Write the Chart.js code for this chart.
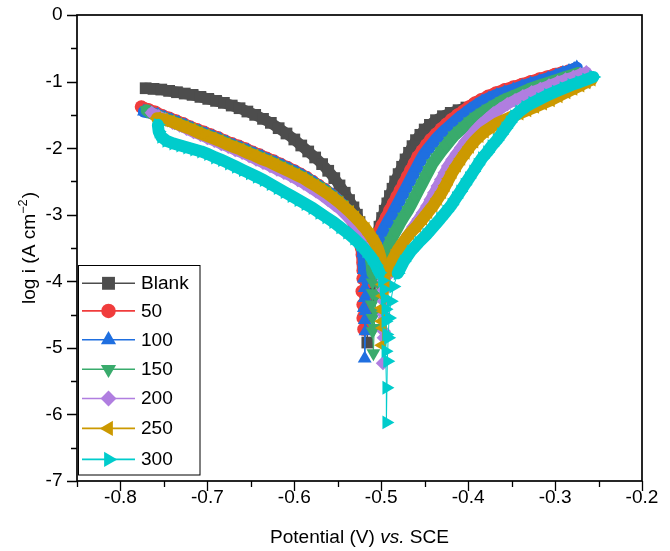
<!DOCTYPE html>
<html><head><meta charset="utf-8">
<script src="https://cdn.jsdelivr.net/npm/chart.js@4.4.1/dist/chart.umd.min.js"></script>
<style>html,body{margin:0;padding:0;background:#fff;}canvas{display:block;}</style>
</head><body>
<canvas id="c" width="670" height="551"></canvas>
<script>
const seriesNames = ['Blank','50','100','150','200','250','300'];
const seriesColors = ['#4d4d4d','#f03c3c','#1f6fe0','#39ab6c','#b07ee0','#cc9900','#00cccc'];
const seriesStyles = ['rect','circle','triangle','triangle','rectRot','triangle','triangle'];
const seriesRotation = [0,0,0,180,0,270,90];
const seriesRadius = [8.3,6.6,8,8,7.2,8,8];
const xTicks = [-0.8,-0.7,-0.6,-0.5,-0.4,-0.3,-0.2];
const xTickLabels = ['-0.8','-0.7','-0.6','-0.5','-0.4','-0.3','-0.2'];
const yTicks = [0,-1,-2,-3,-4,-5,-6,-7];
const yTickLabels = ['0','-1','-2','-3','-4','-5','-6','-7'];

// [potential (V vs SCE), log i]
const blank = [[-0.771,-1.10],[-0.762,-1.11],[-0.753,-1.12],[-0.744,-1.14],[-0.735,-1.16],[-0.726,-1.18],[-0.717,-1.20],[-0.708,-1.23],[-0.699,-1.26],[-0.690,-1.29],[-0.681,-1.32],[-0.672,-1.36],[-0.663,-1.40],[-0.654,-1.45],[-0.645,-1.50],[-0.636,-1.56],[-0.627,-1.62],[-0.618,-1.70],[-0.609,-1.78],[-0.600,-1.87],[-0.592,-1.96],[-0.584,-2.05],[-0.576,-2.14],[-0.568,-2.24],[-0.561,-2.34],[-0.554,-2.45],[-0.548,-2.56],[-0.542,-2.67],[-0.537,-2.78],[-0.532,-2.89],[-0.528,-3.00],[-0.525,-3.11],[-0.522,-3.23],[-0.520,-3.35],[-0.519,-3.47],[-0.518,-3.60],[-0.517,-3.73],[-0.517,-3.86],[-0.517,-4.00],[-0.516,-4.15],[-0.517,-4.30],[-0.517,-4.53],[-0.516,-4.92],
[-0.515,-4.50],[-0.514,-4.25],[-0.513,-4.05],[-0.512,-3.88],[-0.511,-3.72],[-0.509,-3.57],[-0.507,-3.43],[-0.505,-3.30],[-0.502,-3.18],[-0.499,-3.05],[-0.496,-2.94],[-0.493,-2.83],[-0.490,-2.72],[-0.487,-2.61],[-0.484,-2.50],[-0.480,-2.39],[-0.476,-2.28],[-0.472,-2.17],[-0.468,-2.07],[-0.464,-1.97],[-0.460,-1.88],[-0.455,-1.80],[-0.450,-1.72],[-0.444,-1.65],[-0.437,-1.58],[-0.429,-1.52],[-0.420,-1.47],[-0.411,-1.43],[-0.402,-1.39],[-0.392,-1.35],[-0.382,-1.31],[-0.372,-1.27],[-0.362,-1.24],[-0.352,-1.21],[-0.342,-1.18],[-0.332,-1.15],[-0.322,-1.12],[-0.312,-1.10],[-0.302,-1.08],[-0.292,-1.06],[-0.282,-1.04],[-0.273,-1.02],[-0.266,-1.01]];

const c50 = [[-0.776,-1.38],[-0.768,-1.42],[-0.760,-1.46],[-0.752,-1.51],[-0.744,-1.55],[-0.736,-1.59],[-0.728,-1.63],[-0.720,-1.68],[-0.712,-1.72],[-0.704,-1.76],[-0.696,-1.80],[-0.688,-1.84],[-0.680,-1.89],[-0.672,-1.93],[-0.664,-1.97],[-0.656,-2.01],[-0.648,-2.06],[-0.640,-2.10],[-0.632,-2.15],[-0.624,-2.19],[-0.616,-2.24],[-0.608,-2.29],[-0.600,-2.34],[-0.593,-2.39],[-0.586,-2.44],[-0.579,-2.50],[-0.572,-2.56],[-0.565,-2.62],[-0.558,-2.69],[-0.552,-2.76],[-0.546,-2.84],[-0.541,-2.92],[-0.537,-3.00],[-0.533,-3.09],[-0.530,-3.18],[-0.527,-3.28],[-0.525,-3.38],[-0.523,-3.49],[-0.522,-3.60],[-0.521,-3.72],[-0.521,-3.84],[-0.521,-3.96],[-0.522,-4.15],[-0.521,-4.35],[-0.521,-4.55],[-0.520,-4.72],
[-0.519,-4.45],[-0.518,-4.22],[-0.517,-4.02],[-0.516,-3.85],[-0.514,-3.70],[-0.511,-3.56],[-0.508,-3.42],[-0.504,-3.29],[-0.499,-3.16],[-0.494,-3.04],[-0.490,-2.93],[-0.486,-2.83],[-0.482,-2.73],[-0.478,-2.63],[-0.474,-2.53],[-0.470,-2.43],[-0.466,-2.33],[-0.462,-2.23],[-0.458,-2.13],[-0.453,-2.04],[-0.448,-1.95],[-0.443,-1.87],[-0.437,-1.79],[-0.431,-1.71],[-0.425,-1.64],[-0.419,-1.57],[-0.412,-1.50],[-0.405,-1.44],[-0.399,-1.38],[-0.392,-1.32],[-0.385,-1.27],[-0.377,-1.22],[-0.368,-1.17],[-0.358,-1.12],[-0.348,-1.08],[-0.338,-1.04],[-0.328,-1.00],[-0.318,-0.96],[-0.309,-0.93],[-0.300,-0.89],[-0.291,-0.86],[-0.284,-0.84],[-0.278,-0.82]];

const c100 = [[-0.773,-1.45],[-0.765,-1.47],[-0.757,-1.50],[-0.749,-1.54],[-0.741,-1.58],[-0.733,-1.62],[-0.725,-1.66],[-0.717,-1.71],[-0.709,-1.75],[-0.701,-1.79],[-0.693,-1.83],[-0.685,-1.87],[-0.677,-1.92],[-0.669,-1.96],[-0.661,-2.00],[-0.653,-2.04],[-0.645,-2.09],[-0.637,-2.13],[-0.629,-2.18],[-0.621,-2.22],[-0.613,-2.27],[-0.605,-2.32],[-0.597,-2.37],[-0.590,-2.42],[-0.583,-2.47],[-0.576,-2.53],[-0.569,-2.59],[-0.562,-2.65],[-0.555,-2.72],[-0.549,-2.79],[-0.543,-2.87],[-0.538,-2.95],[-0.534,-3.04],[-0.530,-3.13],[-0.527,-3.23],[-0.524,-3.34],[-0.522,-3.45],[-0.521,-3.57],[-0.520,-3.70],[-0.520,-3.83],[-0.520,-3.96],[-0.519,-4.10],[-0.519,-4.25],[-0.520,-4.40],[-0.519,-4.58],[-0.519,-5.16],
[-0.518,-4.75],[-0.518,-4.45],[-0.517,-4.20],[-0.515,-3.98],[-0.513,-3.80],[-0.510,-3.64],[-0.506,-3.49],[-0.502,-3.35],[-0.497,-3.22],[-0.492,-3.10],[-0.487,-2.99],[-0.483,-2.89],[-0.479,-2.79],[-0.475,-2.69],[-0.471,-2.59],[-0.467,-2.49],[-0.463,-2.39],[-0.459,-2.29],[-0.455,-2.19],[-0.451,-2.10],[-0.446,-2.01],[-0.441,-1.93],[-0.436,-1.85],[-0.430,-1.77],[-0.424,-1.70],[-0.418,-1.63],[-0.412,-1.56],[-0.405,-1.49],[-0.398,-1.42],[-0.391,-1.36],[-0.384,-1.30],[-0.376,-1.25],[-0.367,-1.20],[-0.358,-1.16],[-0.348,-1.12],[-0.338,-1.07],[-0.328,-1.03],[-0.318,-0.99],[-0.308,-0.95],[-0.299,-0.91],[-0.291,-0.87],[-0.284,-0.84],[-0.278,-0.81],[-0.275,-0.79]];

const c150 = [[-0.770,-1.43],[-0.762,-1.49],[-0.754,-1.53],[-0.746,-1.57],[-0.738,-1.61],[-0.730,-1.65],[-0.722,-1.69],[-0.714,-1.73],[-0.706,-1.78],[-0.698,-1.82],[-0.690,-1.86],[-0.682,-1.90],[-0.674,-1.95],[-0.666,-1.99],[-0.658,-2.03],[-0.650,-2.08],[-0.642,-2.12],[-0.634,-2.17],[-0.626,-2.21],[-0.618,-2.26],[-0.610,-2.31],[-0.602,-2.36],[-0.594,-2.41],[-0.587,-2.46],[-0.580,-2.52],[-0.573,-2.57],[-0.566,-2.63],[-0.559,-2.70],[-0.552,-2.77],[-0.546,-2.84],[-0.540,-2.92],[-0.534,-3.00],[-0.529,-3.09],[-0.524,-3.18],[-0.520,-3.28],[-0.517,-3.39],[-0.514,-3.50],[-0.512,-3.62],[-0.511,-3.75],[-0.510,-3.88],[-0.510,-4.02],[-0.510,-4.18],[-0.511,-4.35],[-0.510,-4.55],[-0.510,-4.75],[-0.509,-5.08],
[-0.508,-4.70],[-0.507,-4.45],[-0.506,-4.22],[-0.504,-4.02],[-0.501,-3.84],[-0.498,-3.68],[-0.494,-3.53],[-0.489,-3.39],[-0.484,-3.26],[-0.479,-3.14],[-0.474,-3.03],[-0.469,-2.93],[-0.465,-2.83],[-0.461,-2.73],[-0.457,-2.63],[-0.453,-2.53],[-0.449,-2.43],[-0.445,-2.33],[-0.441,-2.23],[-0.436,-2.14],[-0.431,-2.05],[-0.426,-1.97],[-0.421,-1.89],[-0.416,-1.81],[-0.410,-1.74],[-0.404,-1.67],[-0.398,-1.60],[-0.391,-1.53],[-0.384,-1.47],[-0.377,-1.41],[-0.369,-1.35],[-0.361,-1.29],[-0.352,-1.24],[-0.343,-1.19],[-0.334,-1.14],[-0.325,-1.09],[-0.316,-1.05],[-0.306,-1.01],[-0.297,-0.97],[-0.288,-0.93],[-0.280,-0.90],[-0.273,-0.87]];

const c200 = [[-0.764,-1.47],[-0.756,-1.52],[-0.748,-1.57],[-0.740,-1.62],[-0.732,-1.66],[-0.724,-1.71],[-0.716,-1.76],[-0.708,-1.80],[-0.700,-1.85],[-0.692,-1.89],[-0.684,-1.94],[-0.676,-1.98],[-0.668,-2.03],[-0.660,-2.07],[-0.652,-2.12],[-0.644,-2.17],[-0.636,-2.22],[-0.628,-2.27],[-0.620,-2.32],[-0.612,-2.37],[-0.604,-2.42],[-0.596,-2.48],[-0.589,-2.53],[-0.582,-2.59],[-0.575,-2.65],[-0.568,-2.71],[-0.561,-2.78],[-0.554,-2.85],[-0.547,-2.92],[-0.541,-3.00],[-0.535,-3.08],[-0.529,-3.16],[-0.523,-3.25],[-0.517,-3.34],[-0.512,-3.43],[-0.507,-3.53],[-0.503,-3.63],[-0.500,-3.74],[-0.498,-3.86],[-0.497,-3.99],[-0.497,-4.13],[-0.497,-4.30],[-0.497,-4.50],[-0.497,-4.75],[-0.498,-5.23],
[-0.497,-4.85],[-0.496,-4.55],[-0.495,-4.30],[-0.493,-4.08],[-0.490,-3.88],[-0.486,-3.70],[-0.481,-3.55],[-0.475,-3.42],[-0.469,-3.30],[-0.463,-3.18],[-0.457,-3.07],[-0.452,-2.97],[-0.447,-2.87],[-0.443,-2.77],[-0.439,-2.67],[-0.435,-2.57],[-0.431,-2.47],[-0.427,-2.37],[-0.423,-2.27],[-0.418,-2.17],[-0.413,-2.08],[-0.408,-1.99],[-0.403,-1.90],[-0.397,-1.81],[-0.391,-1.72],[-0.385,-1.64],[-0.378,-1.56],[-0.371,-1.48],[-0.363,-1.41],[-0.355,-1.34],[-0.346,-1.28],[-0.337,-1.22],[-0.327,-1.16],[-0.317,-1.11],[-0.307,-1.06],[-0.297,-1.01],[-0.288,-0.97],[-0.279,-0.93],[-0.271,-0.89],[-0.264,-0.86]];

const c250 = [[-0.758,-1.55],[-0.750,-1.57],[-0.742,-1.60],[-0.734,-1.64],[-0.726,-1.68],[-0.718,-1.72],[-0.710,-1.77],[-0.702,-1.81],[-0.694,-1.85],[-0.686,-1.89],[-0.678,-1.94],[-0.670,-1.98],[-0.662,-2.02],[-0.654,-2.07],[-0.646,-2.11],[-0.638,-2.16],[-0.630,-2.20],[-0.622,-2.25],[-0.614,-2.30],[-0.606,-2.35],[-0.598,-2.40],[-0.590,-2.45],[-0.583,-2.51],[-0.576,-2.56],[-0.569,-2.62],[-0.562,-2.68],[-0.555,-2.75],[-0.548,-2.82],[-0.542,-2.89],[-0.536,-2.96],[-0.530,-3.04],[-0.524,-3.12],[-0.518,-3.21],[-0.513,-3.30],[-0.508,-3.40],[-0.504,-3.51],[-0.501,-3.63],[-0.499,-3.76],[-0.498,-3.90],[-0.498,-4.05],[-0.498,-4.22],[-0.499,-4.40],[-0.499,-4.60],[-0.499,-4.96],
[-0.498,-4.70],[-0.497,-4.45],[-0.496,-4.22],[-0.494,-4.02],[-0.491,-3.84],[-0.487,-3.68],[-0.481,-3.53],[-0.474,-3.40],[-0.467,-3.28],[-0.459,-3.17],[-0.452,-3.06],[-0.446,-2.96],[-0.440,-2.86],[-0.435,-2.76],[-0.430,-2.66],[-0.426,-2.56],[-0.422,-2.46],[-0.418,-2.36],[-0.413,-2.26],[-0.408,-2.16],[-0.403,-2.07],[-0.398,-1.98],[-0.393,-1.90],[-0.387,-1.82],[-0.381,-1.75],[-0.374,-1.69],[-0.367,-1.63],[-0.359,-1.58],[-0.350,-1.53],[-0.341,-1.48],[-0.332,-1.43],[-0.323,-1.38],[-0.314,-1.33],[-0.305,-1.28],[-0.296,-1.22],[-0.287,-1.16],[-0.279,-1.11],[-0.271,-1.06],[-0.264,-1.01],[-0.258,-0.97]];

const c300 = [[-0.757,-1.65],[-0.756,-1.75],[-0.753,-1.83],[-0.747,-1.89],[-0.739,-1.93],[-0.731,-1.96],[-0.723,-1.99],[-0.715,-2.02],[-0.707,-2.05],[-0.699,-2.09],[-0.691,-2.14],[-0.683,-2.18],[-0.675,-2.23],[-0.667,-2.28],[-0.659,-2.33],[-0.651,-2.38],[-0.643,-2.43],[-0.635,-2.48],[-0.627,-2.54],[-0.619,-2.60],[-0.611,-2.66],[-0.603,-2.72],[-0.595,-2.78],[-0.587,-2.84],[-0.579,-2.90],[-0.571,-2.97],[-0.563,-3.04],[-0.555,-3.11],[-0.547,-3.19],[-0.539,-3.27],[-0.531,-3.36],[-0.524,-3.45],[-0.517,-3.55],[-0.511,-3.65],[-0.506,-3.76],[-0.502,-3.87],[-0.499,-3.99],[-0.497,-4.12],[-0.496,-4.26],[-0.495,-4.42],[-0.495,-4.60],[-0.494,-4.80],[-0.495,-5.05],[-0.494,-5.60],[-0.494,-6.12],
[-0.493,-5.20],[-0.492,-4.85],[-0.491,-4.55],[-0.489,-4.30],[-0.486,-4.08],[-0.481,-3.88],[-0.474,-3.70],[-0.466,-3.55],[-0.457,-3.42],[-0.448,-3.30],[-0.440,-3.18],[-0.432,-3.06],[-0.425,-2.95],[-0.419,-2.85],[-0.414,-2.75],[-0.409,-2.65],[-0.404,-2.55],[-0.399,-2.45],[-0.394,-2.35],[-0.389,-2.25],[-0.384,-2.15],[-0.378,-2.06],[-0.373,-1.97],[-0.367,-1.88],[-0.362,-1.79],[-0.357,-1.70],[-0.352,-1.61],[-0.347,-1.52],[-0.341,-1.45],[-0.334,-1.38],[-0.326,-1.32],[-0.317,-1.26],[-0.308,-1.20],[-0.299,-1.15],[-0.290,-1.10],[-0.281,-1.05],[-0.272,-1.01],[-0.264,-0.97],[-0.256,-0.93]];

const seriesData = [blank, c50, c100, c150, c200, c250, c300];
const bandWidth = [11, 12, 12, 12, 11, 12, 12];
const tailLimit = -3.95; // below this log i the scan is drawn as separate markers with a thin line

const FONT = '"Liberation Sans", Arial, sans-serif';
const FS = 18, STRETCH = 1.06;

function drawMarker(ctx, style, rot, r, x, y) {
  ctx.beginPath();
  if (style === 'rect') {
    const s = Math.SQRT1_2 * r;
    ctx.rect(x - s, y - s, 2 * s, 2 * s);
  } else if (style === 'circle') {
    ctx.arc(x, y, r, 0, Math.PI * 2);
  } else if (style === 'rectRot') {
    ctx.moveTo(x, y - r); ctx.lineTo(x + r, y); ctx.lineTo(x, y + r); ctx.lineTo(x - r, y);
  } else {
    let a = rot * Math.PI / 180;
    for (let k = 0; k < 3; k++) {
      const px = x + Math.sin(a) * r, py = y - Math.cos(a) * r;
      if (k === 0) ctx.moveTo(px, py); else ctx.lineTo(px, py);
      a += Math.PI * 2 / 3;
    }
  }
  ctx.closePath();
  ctx.fill();
}

function stretchedText(ctx, txt, x, y, align, font) {
  ctx.save();
  ctx.font = font || (FS + 'px ' + FONT);
  const w = ctx.measureText(txt).width * STRETCH;
  let left = x;
  if (align === 'center') left = x - w / 2;
  else if (align === 'right') left = x - w;
  ctx.translate(left, y);
  ctx.scale(STRETCH, 1);
  ctx.textAlign = 'left';
  ctx.fillText(txt, 0, 0);
  ctx.restore();
  return w;
}

const decor = {
  id: 'decor',
  afterDraw(chart) {
    const { ctx, chartArea: a, scales: { x, y } } = chart;
    ctx.save();
    ctx.strokeStyle = '#000';
    ctx.lineWidth = 1.3;
    ctx.beginPath();
    for (let k = 0; k <= 13; k++) {
      const v = -0.85 + k * 0.05;
      const major = xTicks.some(t => Math.abs(t - v) < 1e-6);
      const px = Math.round(x.getPixelForValue(v)) + 0.5;
      ctx.moveTo(px, a.bottom); ctx.lineTo(px, a.bottom + (major ? 10 : 6));
    }
    for (let k = 0; k <= 14; k++) {
      const v = -k * 0.5;
      const major = yTicks.some(t => Math.abs(t - v) < 1e-6);
      const py = Math.round(y.getPixelForValue(v)) + 0.5;
      ctx.moveTo(a.left, py); ctx.lineTo(a.left - (major ? 10 : 6), py);
    }
    ctx.stroke();
    ctx.lineWidth = 1.7;
    ctx.strokeRect(a.left, a.top, a.right - a.left, a.bottom - a.top);

    ctx.fillStyle = '#000';
    ctx.textBaseline = 'middle';
    xTicks.forEach((v, i) => stretchedText(ctx, xTickLabels[i], x.getPixelForValue(v), 498, 'center'));
    yTicks.forEach((v, i) => stretchedText(ctx, yTickLabels[i], 62.5, y.getPixelForValue(v) + 0.5, 'right'));

    const lx = 78.5, ly = 265.5, lw = 121.5, lh = 209.5;
    ctx.fillStyle = '#fff';
    ctx.fillRect(lx, ly, lw, lh);
    ctx.lineWidth = 1;
    ctx.strokeStyle = '#000';
    ctx.strokeRect(lx, ly, lw, lh);
    const rowY = [283.3, 310.9, 339.8, 369.3, 398.5, 428.4, 459.4];
    for (let i = 0; i < seriesNames.length; i++) {
      const yy = rowY[i];
      ctx.strokeStyle = seriesColors[i];
      ctx.lineWidth = 1.6;
      ctx.beginPath(); ctx.moveTo(82, yy); ctx.lineTo(135, yy); ctx.stroke();
      ctx.fillStyle = seriesColors[i];
      drawMarker(ctx, seriesStyles[i], seriesRotation[i], seriesRadius[i] * 1.1, 108.5, yy);
      ctx.fillStyle = '#000';
      ctx.textBaseline = 'middle';
      stretchedText(ctx, seriesNames[i], 141, yy + 1, 'left');
    }

    ctx.fillStyle = '#000';
    ctx.textBaseline = 'middle';
    const parts = [['Potential (V) ', ''], ['vs.', 'italic '], [' SCE', '']];
    let total = 0;
    for (const p of parts) { ctx.font = p[1] + FS + 'px ' + FONT; total += ctx.measureText(p[0]).width * STRETCH; }
    let cx = (a.left + a.right) / 2 - total / 2;
    for (const p of parts) {
      cx += stretchedText(ctx, p[0], cx, 538, 'left', p[1] + FS + 'px ' + FONT);
    }

    ctx.save();
    ctx.translate(30, (a.top + a.bottom) / 2);
    ctx.rotate(-Math.PI / 2);
    const f1 = FS + 'px ' + FONT, f2 = '12px ' + FONT;
    const t1 = 'log i (A cm', sup = '\u22122', t2 = ')';
    ctx.font = f1; const w1 = ctx.measureText(t1).width * STRETCH;
    ctx.font = f2; const ws = ctx.measureText(sup).width * STRETCH;
    ctx.font = f1; const w2 = ctx.measureText(t2).width * STRETCH;
    let sx = -(w1 + ws + w2 + 1) / 2;
    ctx.textBaseline = 'middle';
    sx += stretchedText(ctx, t1, sx, 0, 'left', f1);
    stretchedText(ctx, sup, sx, -6, 'left', f2); sx += ws + 1;
    stretchedText(ctx, t2, sx, 0, 'left', f1);
    ctx.restore();

    ctx.restore();
  }
};

const datasets = seriesData.map((d, i) => ({
  label: seriesNames[i],
  data: d.map(p => ({ x: p[0], y: p[1] })),
  borderColor: seriesColors[i],
  backgroundColor: seriesColors[i],
  pointBackgroundColor: seriesColors[i],
  pointBorderWidth: 0,
  borderWidth: bandWidth[i],
  borderJoinStyle: 'round',
  borderCapStyle: 'round',
  segment: {
    borderWidth: c => {
      const dx = c.p1.x - c.p0.x, dy = c.p1.y - c.p0.y;
      const low = Math.min(c.p0.parsed.y, c.p1.parsed.y) < tailLimit;
      return (low || Math.hypot(dx, dy) > 16) ? 1 : bandWidth[i];
    }
  },
  pointStyle: seriesStyles[i],
  rotation: seriesRotation[i],
  pointRadius: seriesRadius[i],
  pointHoverRadius: seriesRadius[i],
  tension: 0,
  order: seriesNames.length - 1 - i
}));

new Chart(document.getElementById('c'), {
  type: 'scatter',
  data: { datasets },
  options: {
    responsive: false,
    animation: false,
    devicePixelRatio: 1,
    showLine: true,
    layout: { padding: { top: 15, right: 28, left: 0, bottom: 0 } },
    plugins: { legend: { display: false }, tooltip: { enabled: false } },
    scales: {
      x: {
        type: 'linear', min: -0.85, max: -0.2,
        afterBuildTicks: s => { s.ticks = xTicks.map(v => ({ value: v })); },
        afterFit: s => { s.height = 70; },
        grid: { display: false, drawTicks: false },
        border: { display: false },
        ticks: { display: false }
      },
      y: {
        type: 'linear', min: -7, max: 0,
        afterBuildTicks: s => { s.ticks = yTicks.map(v => ({ value: v })); },
        afterFit: s => { s.width = 77; },
        grid: { display: false, drawTicks: false },
        border: { display: false },
        ticks: { display: false }
      }
    }
  },
  plugins: [decor]
});
</script>
</body></html>
